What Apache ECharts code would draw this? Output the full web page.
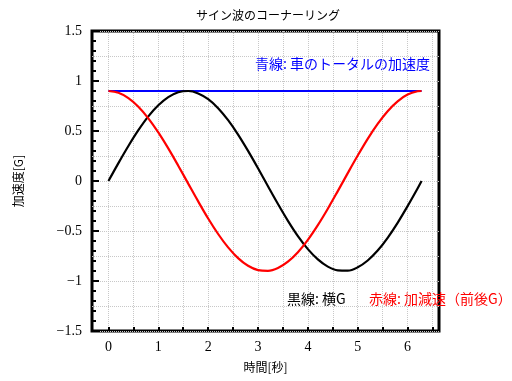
<!DOCTYPE html>
<html>
<head>
<meta charset="utf-8">
<script src="https://cdn.jsdelivr.net/npm/echarts@6/dist/echarts.min.js"></script>
<style>html,body{margin:0;padding:0;background:#fff}#c{width:512px;height:381px}</style>
</head>
<body>
<div id="c"></div>
<script>
// time [s]
const timeSec = [0,0.2,0.4,0.6,0.8,1.0,1.2,1.4,1.6,1.8,2.0,2.2,2.4,2.6,2.8,3.0,3.2,3.4,3.6,3.8,4.0,4.2,4.4,4.6,4.8,5.0,5.2,5.4,5.6,5.8,6.0,6.2,6.28];
// black: lateral G
const lateralG = [0,0.179,0.350,0.508,0.646,0.757,0.839,0.887,0.900,0.876,0.818,0.728,0.608,0.464,0.301,0.127,-0.053,-0.230,-0.398,-0.551,-0.681,-0.784,-0.856,-0.894,-0.897,-0.863,-0.795,-0.696,-0.568,-0.418,-0.251,-0.075,0];
// red: longitudinal G
const longitudinalG = [0.900,0.882,0.829,0.743,0.627,0.486,0.326,0.153,-0.026,-0.204,-0.375,-0.530,-0.664,-0.771,-0.848,-0.891,-0.898,-0.870,-0.807,-0.712,-0.588,-0.441,-0.277,-0.101,0.079,0.255,0.422,0.571,0.698,0.797,0.864,0.897,0.900];
// blue: total acceleration
const totalTime = [0, 6.28];
const totalG = [0.9, 0.9];

const xLabelValues = [0,1,2,3,4,5,6];
const xTickValues = [0,0.5,1,1.5,2,2.5,3,3.5,4,4.5,5,5.5,6,6.5];

const titleText = 'サイン波のコーナーリング';
const xName = '時間[秒]';
const yName = '加速度[G]';
const noteBlue = '青線: 車のトータルの加速度';
const noteBlack = '黒線: 横G';
const noteRed = '赤線: 加減速（前後G）';

const pairs = (xs, ys) => xs.map((x, i) => [x, ys[i]]);
const jp = '"Noto Sans CJK JP", sans-serif';
const num = '"Liberation Serif", serif';
const gridLine = {show: true, lineStyle: {color: '#c8c8c8', type: 'dotted', width: 1}};

const chart = echarts.init(document.getElementById('c'));
chart.setOption({
  animation: false,
  backgroundColor: '#fff',
  title: {text: titleText, left: 191, top: 4,
    textStyle: {fontFamily: jp, fontSize: 12, fontWeight: 'normal', color: '#000'}},
  grid: {left: 92, top: 31, width: 347, height: 300, show: true, borderColor: '#000', borderWidth: 3, backgroundColor: 'transparent'},
  xAxis: [{
    type: 'value', min: -0.33, max: 6.63, position: 'bottom',
    name: xName, nameLocation: 'middle', nameGap: 30,
    nameTextStyle: {fontFamily: jp, fontSize: 12, color: '#000'},
    axisLine: {show: false, onZero: false},
    axisTick: {show: true, inside: true, length: 4, customValues: xTickValues, lineStyle: {color: '#000', width: 2}},
    axisLabel: {customValues: xLabelValues, fontFamily: num, fontSize: 14, color: '#000', margin: 9},
    splitLine: Object.assign({customValues: xTickValues}, gridLine)
  }],
  yAxis: [{
    type: 'value', min: -1.5, max: 1.5, interval: 0.5, position: 'left',
    name: yName, nameLocation: 'middle', nameGap: 68, nameRotate: 90,
    nameTextStyle: {fontFamily: jp, fontSize: 12, color: '#000'},
    axisLine: {show: false, onZero: false},
    axisTick: {show: true, inside: true, length: 7, lineStyle: {color: '#000', width: 2}},
    minorTick: {show: true, splitNumber: 5, length: 4, lineStyle: {color: '#000', width: 2}},
    axisLabel: {fontFamily: num, fontSize: 14, color: '#000', margin: 10,
      formatter: v => String(v).replace('-', '−')},
    splitLine: {show: false}
  }, {
    type: 'value', min: -1.5, max: 1.5, interval: 0.25, position: 'left',
    axisLine: {show: false, onZero: false}, axisTick: {show: false}, axisLabel: {show: false},
    splitLine: gridLine
  }],
  series: [
    {type: 'line', data: pairs(totalTime, totalG), showSymbol: false, lineStyle: {color: '#0000ff', width: 2}, z: 3},
    {type: 'line', data: pairs(timeSec, lateralG), showSymbol: false, smooth: 0.35, lineStyle: {color: '#000000', width: 2.2}, z: 4},
    {type: 'line', data: pairs(timeSec, longitudinalG), showSymbol: false, smooth: 0.35, lineStyle: {color: '#ff0000', width: 2.2}, z: 5}
  ],
  graphic: [
    {type: 'text', left: 255, top: 57, style: {text: noteBlue, fill: '#0000ff', font: '14px ' + jp}},
    {type: 'text', left: 287, top: 292, style: {text: noteBlack, fill: '#000', font: '14px ' + jp}},
    {type: 'text', left: 369, top: 292, style: {text: noteRed, fill: '#ff0000', font: '14px ' + jp}}
  ]
});
</script>
</body>
</html>
